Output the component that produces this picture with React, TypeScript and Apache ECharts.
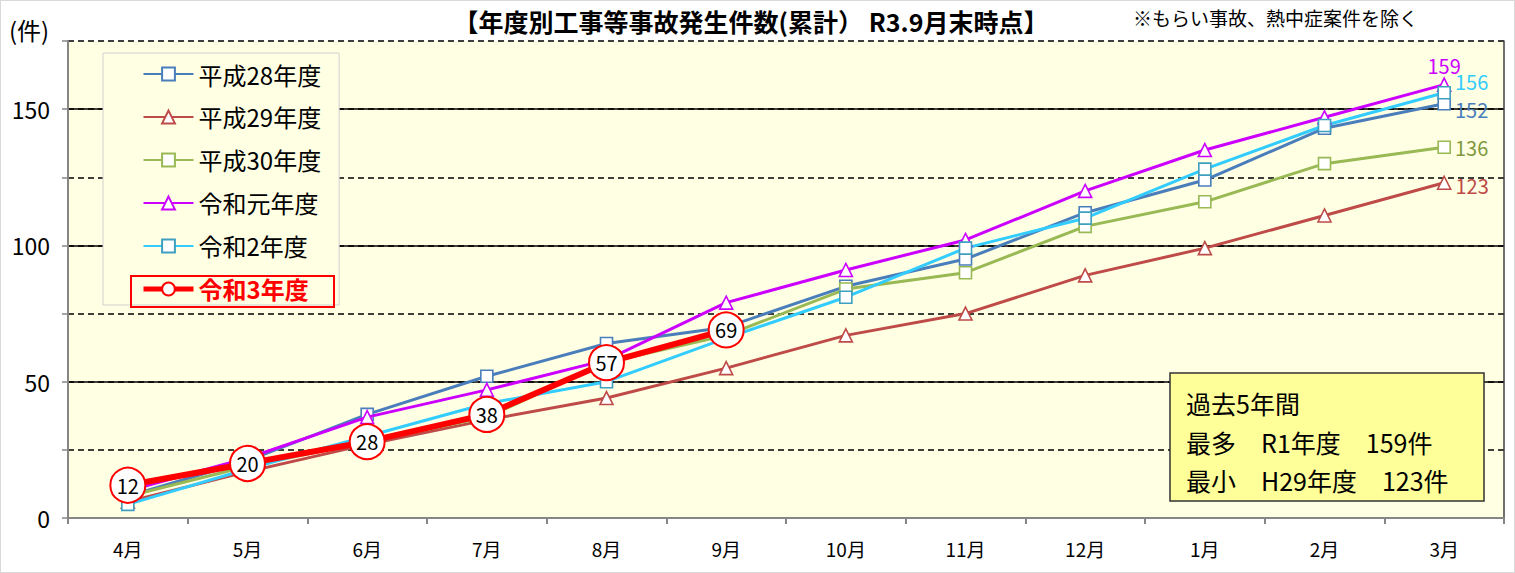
import React, { useEffect, useRef } from "react";
import * as echarts from "echarts";

const FONT = '"Noto Sans CJK JP", "Noto Sans", sans-serif';

const months = ["4月", "5月", "6月", "7月", "8月", "9月", "10月", "11月", "12月", "1月", "2月", "3月"];
const seriesNames = ["平成28年度", "平成29年度", "平成30年度", "令和元年度", "令和2年度", "令和3年度"];
const h28 = [8, 21, 38, 52, 64, 70, 85, 95, 112, 124, 143, 152];
const h29 = [6, 17, 27, 36, 44, 55, 67, 75, 89, 99, 111, 123];
const h30 = [8, 19, 28, 37, 57, 67, 84, 90, 107, 116, 130, 136];
const r1 = [10, 22, 37, 47, 58, 79, 91, 102, 120, 135, 147, 159];
const r2 = [5, 18, 30, 42, 50, 66, 81, 99, 110, 128, 144, 156];
const r3 = [12, 20, 28, 38, 57, 69];

const titleText = "【年度別工事等事故発生件数(累計） R3.9月末時点】";
const noteText = "※もらい事故、熱中症案件を除く";
const unitText = "(件)";
const boxLines = ["過去5年間", "最多　R1年度　159件", "最小　H29年度　123件"];

const C_H28 = "#4A7EBB";
const C_H29 = "#BE4B48";
const C_H30 = "#98B954";
const C_R1 = "#CC00FF";
const C_R2 = "#33CCFF";
const C_R3 = "#FF0000";

function withEndLabel(values: number[], color: string, position: string, offset: number[]) {
  const last = values.length - 1;
  return values.map((v, i) =>
    i === last
      ? {
          value: v,
          label: {
            show: true,
            position,
            distance: 4,
            offset,
            color,
            fontSize: 20,
            lineHeight: 20,
            fontFamily: FONT,
            formatter: "{c}",
          },
        }
      : v
  );
}

function lineSeries(name: string, data: any[], color: string, symbol: string, borderColor: string, z: number) {
  return {
    name,
    type: "line",
    data,
    z,
    yAxisIndex: 0,
    symbol,
    symbolSize: symbol === "triangle" ? 13 : 12,
    showAllSymbol: true,
    lineStyle: { color, width: 3 },
    itemStyle: { color: "#FFFFFF", borderColor, borderWidth: 1.6 },
    emphasis: { disabled: true },
  };
}

export default function App() {
  const ref = useRef<HTMLDivElement>(null);

  useEffect(() => {
    document.body.style.margin = "0";
    if (!ref.current) return;
    const chart = echarts.init(ref.current, null, { renderer: "svg" });

    const option: any = {
      animation: false,
      backgroundColor: "#FFFFFF",
      textStyle: { fontFamily: FONT },
      grid: {
        left: 67,
        right: 10,
        top: 40,
        bottom: 54,
        show: true,
        backgroundColor: "#FFFFE4",
        borderWidth: 0,
      },
      legend: {
        orient: "vertical",
        left: 102,
        top: 52,
        padding: [9, 18, 4, 38],
        itemGap: 19,
        itemWidth: 50,
        itemHeight: 16,
        backgroundColor: "#FFFFE4",
        borderColor: "#D0D0D0",
        borderWidth: 1,
        selectedMode: false,
        textStyle: { fontSize: 24, color: "#000", fontFamily: FONT },
        data: [
          { name: seriesNames[0] },
          { name: seriesNames[1] },
          { name: seriesNames[2] },
          { name: seriesNames[3] },
          { name: seriesNames[4] },
          {
            name: seriesNames[5],
            lineStyle: { width: 5 },
            textStyle: { color: C_R3, fontWeight: "bold", fontSize: 24 },
          },
        ],
      },
      xAxis: {
        type: "category",
        data: months,
        boundaryGap: true,
        axisLine: { show: true, lineStyle: { color: "#868686", width: 2 } },
        axisTick: { show: true, length: 6, lineStyle: { color: "#868686", width: 2 } },
        axisLabel: { fontSize: 19, color: "#000", margin: 21, fontFamily: FONT },
        splitLine: { show: false },
      },
      yAxis: [
        {
          type: "value",
          min: 0,
          max: 175,
          interval: 25,
          axisLine: { show: true, lineStyle: { color: "#868686", width: 2 } },
          axisTick: { show: true, length: 6, lineStyle: { color: "#868686", width: 1.5 } },
          axisLabel: {
            fontSize: 23,
            color: "#000",
            margin: 18,
            fontFamily: FONT,
            formatter: (v: number) => (v % 50 === 0 && v <= 150 ? String(v) : ""),
          },
          splitLine: {
            show: true,
            showMinLine: false,
            lineStyle: { color: "#000", width: 1.5, type: [6, 4] },
          },
        },
        {
          type: "value",
          min: 0,
          max: 175,
          interval: 50,
          position: "right",
          axisLine: { show: true, lineStyle: { color: "#404040", width: 1.5 } },
          axisTick: { show: false },
          axisLabel: { show: false },
          splitLine: {
            show: true,
            showMinLine: false,
            showMaxLine: false,
            lineStyle: { color: "#000", width: 1.5 },
          },
        },
      ],
      series: [
        lineSeries(seriesNames[0], withEndLabel(h28, C_H28, "right", [0, 6]), C_H28, "rect", C_H28, 3),
        lineSeries(seriesNames[1], withEndLabel(h29, C_H29, "right", [0, 3]), C_H29, "triangle", C_H29, 3),
        lineSeries(seriesNames[2], withEndLabel(h30, "#7F9A3E", "right", [0, 0]), C_H30, "rect", C_H30, 3),
        lineSeries(seriesNames[3], withEndLabel(r1, C_R1, "top", [0, 2]), C_R1, "triangle", C_R1, 4),
        lineSeries(seriesNames[4], withEndLabel(r2, C_R2, "right", [0, -11]), C_R2, "rect", "#3F9FC0", 4),
        {
          name: seriesNames[5],
          type: "line",
          data: r3,
          z: 6,
          symbol: "circle",
          symbolSize: 35,
          showAllSymbol: true,
          lineStyle: { color: C_R3, width: 6 },
          itemStyle: { color: "#FFFFFF", borderColor: C_R3, borderWidth: 2 },
          label: {
            show: true,
            position: "inside",
            color: "#000",
            fontSize: 20,
            fontFamily: FONT,
          },
          emphasis: { disabled: true },
        },
      ],
      graphic: [
        {
          type: "text",
          x: 750,
          y: 20,
          style: {
            text: titleText,
            fontSize: 25,
            fontWeight: "bold",
            fill: "#000",
            fontFamily: FONT,
            align: "center",
            verticalAlign: "middle",
          },
        },
        {
          type: "text",
          left: 1132,
          top: 7,
          style: { text: noteText, fontSize: 19, fill: "#000", fontFamily: FONT },
        },
        {
          type: "text",
          left: 8,
          top: 16,
          style: { text: unitText, fontSize: 24, fill: "#000", fontFamily: FONT },
        },
        {
          type: "rect",
          shape: { x: 130, y: 275, width: 203, height: 31 },
          style: { fill: "none", stroke: C_R3, lineWidth: 2 },
          z: 100,
          silent: true,
        },
        {
          type: "rect",
          shape: { x: 1169, y: 372, width: 314, height: 128 },
          style: { fill: "#FFFF99", stroke: "#333333", lineWidth: 1.5 },
          z: 100,
          silent: true,
        },
        {
          type: "text",
          x: 1185,
          y: 402,
          z: 101,
          style: { text: boxLines[0], fontSize: 25, fill: "#000", fontFamily: FONT, verticalAlign: "middle" },
        },
        {
          type: "text",
          x: 1185,
          y: 441,
          z: 101,
          style: { text: boxLines[1], fontSize: 25, fill: "#000", fontFamily: FONT, verticalAlign: "middle" },
        },
        {
          type: "text",
          x: 1185,
          y: 479,
          z: 101,
          style: { text: boxLines[2], fontSize: 25, fill: "#000", fontFamily: FONT, verticalAlign: "middle" },
        },
      ],
    };

    chart.setOption(option);
    return () => chart.dispose();
  }, []);

  return (
    <div
      ref={ref}
      style={{ width: 1515, height: 573, boxSizing: "border-box", border: "1px solid #D9D9D9" }}
    />
  );
}
